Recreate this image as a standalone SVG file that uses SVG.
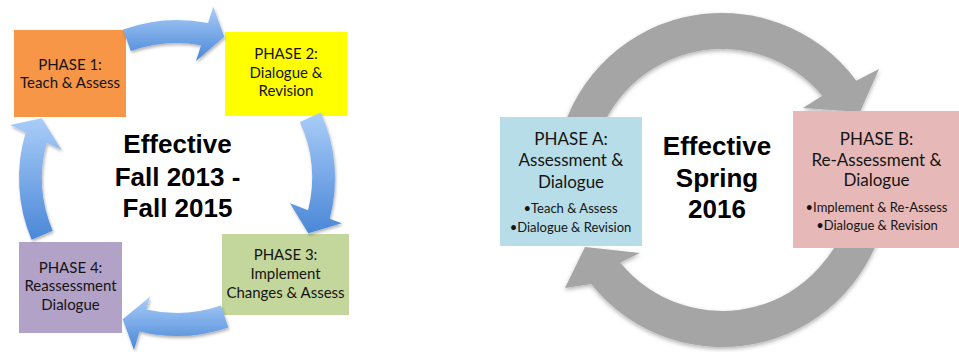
<svg xmlns="http://www.w3.org/2000/svg" width="959" height="352" viewBox="0 0 959 352">
<style>
.box text{font-family:Lato,"Open Sans","Liberation Sans",sans-serif;fill:#141414;text-anchor:middle}
.t15{font-size:15px}
.t17{font-size:17px}
.t13{font-size:13px}
.big{font-family:"Liberation Sans",Arial,sans-serif;font-weight:bold;font-size:26px;fill:#000;text-anchor:middle}
.blue{fill:url(#bg);filter:url(#sh)}
.gray{fill:#A5A5A5;filter:url(#sh2)}
</style>
<defs>
<linearGradient id="bg" x1="0" y1="0" x2="0" y2="1">
<stop offset="0" stop-color="#AACDF8"/>
<stop offset="1" stop-color="#4A87D8"/>
</linearGradient>
<filter id="sh" x="-20%" y="-20%" width="140%" height="140%">
<feDropShadow dx="1" dy="2" stdDeviation="1.5" flood-color="#000" flood-opacity="0.3"/>
</filter>
<filter id="sh2" x="-10%" y="-10%" width="120%" height="120%">
<feDropShadow dx="0" dy="2" stdDeviation="2" flood-color="#000" flood-opacity="0.3"/>
</filter>
</defs>
<rect width="959" height="352" fill="#fff"/>

<!-- Left diagram -->
<g id="phase1" class="box">
<rect x="14" y="30" width="112" height="87" fill="#F79646"/>
<text class="t15" x="70" y="70">PHASE 1:</text>
<text class="t15" x="70" y="88">Teach &amp; Assess</text>
</g>
<g id="phase2" class="box">
<rect x="225" y="32" width="122" height="84" fill="#FFFF00"/>
<text class="t15" x="286" y="59">PHASE 2:</text>
<text class="t15" x="286" y="77.5">Dialogue &amp;</text>
<text class="t15" x="286" y="96">Revision</text>
</g>
<g id="phase3" class="box">
<rect x="222" y="234" width="127" height="81" fill="#C3D69B"/>
<text class="t15" x="285.5" y="260">PHASE 3:</text>
<text class="t15" x="285.5" y="279">Implement</text>
<text class="t15" x="285.5" y="297.5">Changes &amp; Assess</text>
</g>
<g id="phase4" class="box">
<rect x="19" y="242" width="103" height="91" fill="#B3A2C7"/>
<text class="t15" x="70.5" y="272.5">PHASE 4:</text>
<text class="t15" x="70.5" y="291">Reassessment</text>
<text class="t15" x="70.5" y="309.5">Dialogue</text>
</g>
<g id="center-left">
<text class="big" x="177.5" y="153">Effective</text>
<text class="big" x="177.5" y="186">Fall 2013 -</text>
<text class="big" x="177.5" y="217">Fall 2015</text>
</g>
<g id="connectors-left">
<path class="blue" d="M123,29.5 A158,158 0 0 1 208.1,23.1 L213.3,6.7 L224.3,36.7 L196,61 L201,45.2 A135,135 0 0 0 130.8,51.1 Z"/>
<path class="blue" d="M320.8,112.5 A158,158 0 0 1 329.7,218.7 L341.7,223.3 L308.3,233.3 L290,203.3 L308.1,210.3 A135,135 0 0 0 299.9,122 Z"/>
<path class="blue" d="M228.4,327.4 A158,158 0 0 1 139.6,331.5 L134,350 L122.7,319.3 L150,296.7 L146.2,309.4 A135,135 0 0 0 221,305.6 Z"/>
<path class="blue" d="M31.6,239.7 A158,158 0 0 1 25.7,132.6 L10,125 L41.7,118.3 L61.7,150 L46.7,142.7 A135,135 0 0 0 52.7,230.7 Z"/>
</g>

<!-- Right diagram -->
<g id="connectors-right">
<path class="gray" d="M557.5,151 A167,167 0 0 1 856.3,80.7 L879,69 L860,112 L803,108 L822.3,95.8 A131,131 0 0 0 593,157.3 Z"/>
<path class="gray" d="M886.5,209 A167,167 0 0 1 591.3,284 L565,288 L585,247 L640,253 L620.2,262.4 A131,131 0 0 0 851,202.7 Z"/>
</g>
<g id="phaseA" class="box">
<rect x="500" y="117" width="142" height="129" fill="#B7DDE8"/>
<text class="t17" x="571" y="145">PHASE A:</text>
<text class="t17" x="571" y="166">Assessment &amp;</text>
<text class="t17" x="571" y="188">Dialogue</text>
<text class="t13" x="570.5" y="213">•Teach &amp; Assess</text>
<text class="t13" x="570.5" y="232">•Dialogue &amp; Revision</text>
</g>
<g id="phaseB" class="box">
<rect x="793" y="111" width="166" height="137" fill="#E6B9B8"/>
<text class="t17" x="876.5" y="144.5">PHASE B:</text>
<text class="t17" x="876.5" y="166">Re-Assessment &amp;</text>
<text class="t17" x="876.5" y="186">Dialogue</text>
<text class="t13" x="876.5" y="212">•Implement &amp; Re-Assess</text>
<text class="t13" x="877" y="229.5">•Dialogue &amp; Revision</text>
</g>
<g id="center-right">
<text class="big" x="717" y="155">Effective</text>
<text class="big" x="717" y="187">Spring</text>
<text class="big" x="717" y="218">2016</text>
</g>
</svg>
